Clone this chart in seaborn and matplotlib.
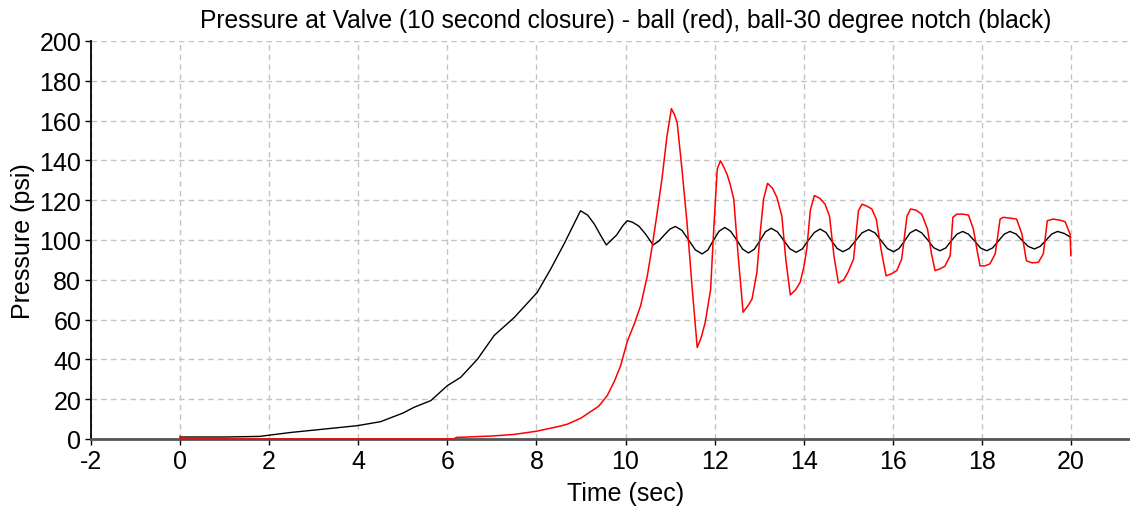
import matplotlib
matplotlib.use("Agg")
import matplotlib.pyplot as plt
import seaborn as sns
import pandas as pd

# Valve pressure history, ball valve (red)
ball_t = [0.0, 0.0, 6.15, 6.2, 7.0, 7.5, 8.0, 8.5, 8.7, 9.0, 9.14, 9.4, 9.59, 9.75, 9.89,
          10.04, 10.2, 10.34, 10.49, 10.6, 10.7, 10.82, 10.93, 11.03, 11.1, 11.16, 11.27,
          11.38, 11.5, 11.61, 11.7, 11.79, 11.91, 11.98, 12.06, 12.13, 12.2, 12.28, 12.35,
          12.43, 12.53, 12.64, 12.75, 12.84, 12.95, 13.03, 13.1, 13.19, 13.3, 13.4, 13.51,
          13.6, 13.7, 13.82, 13.92, 14.0, 14.07, 14.15, 14.24, 14.36, 14.48, 14.58, 14.68,
          14.78, 14.9, 15.0, 15.12, 15.23, 15.31, 15.42, 15.53, 15.63, 15.74, 15.85, 15.97,
          16.09, 16.2, 16.32, 16.4, 16.52, 16.65, 16.78, 16.87, 16.95, 17.06, 17.17, 17.29,
          17.35, 17.44, 17.57, 17.7, 17.81, 17.9, 17.96, 18.07, 18.18, 18.3, 18.41, 18.48,
          18.63, 18.78, 18.9, 19.0, 19.13, 19.27, 19.38, 19.47, 19.6, 19.75, 19.87, 19.98,
          20.0]
ball_p = [1.5, 0.0, 0.0, 0.8, 1.5, 2.3, 3.9, 6.3, 7.5, 10.5, 12.6, 16.5, 21.8, 29.0, 36.8,
          49.0, 58.0, 67.0, 82.0, 97.0, 112.0, 131.0, 152.0, 166.0, 163.0, 159.0, 135.0,
          109.0, 75.0, 46.0, 51.0, 58.6, 75.0, 105.0, 135.7, 139.8, 137.0, 133.0, 128.0,
          120.6, 92.0, 63.7, 67.0, 70.3, 83.7, 105.0, 120.6, 128.5, 126.0, 121.4, 112.0,
          90.0, 72.4, 75.0, 78.7, 86.0, 95.5, 115.0, 122.3, 121.0, 118.0, 112.0, 92.0,
          78.4, 80.0, 84.0, 90.4, 114.7, 118.0, 117.0, 115.6, 110.5, 95.0, 82.0, 83.0,
          84.6, 90.4, 112.0, 115.6, 115.0, 113.0, 105.5, 93.0, 84.6, 85.5, 86.8, 92.2,
          111.4, 113.0, 113.0, 112.5, 105.5, 94.0, 87.0, 87.0, 88.0, 93.0, 110.5, 111.4,
          111.0, 110.5, 103.0, 89.6, 88.5, 88.8, 93.0, 109.7, 110.5, 110.0, 109.2, 103.0,
          92.0]

# Valve pressure history, ball valve with 30 degree notch (black)
notch_t = [0.0, 1.0, 1.78, 2.49, 3.24, 3.98, 4.5, 5.0, 5.25, 5.63, 6.0, 6.3, 6.68, 7.05,
           7.5, 8.02, 8.32, 8.62, 8.99, 9.15, 9.3, 9.45, 9.57, 9.8, 9.95, 10.04, 10.15,
           10.3, 10.45, 10.62, 10.75, 10.87, 11.0, 11.12,
           11.27, 11.42, 11.57, 11.72, 11.85, 11.97, 12.10, 12.23, 12.36, 12.50, 12.63,
           12.76, 12.89, 13.02, 13.14, 13.27, 13.41, 13.55, 13.69, 13.83, 13.97, 14.10,
           14.24, 14.37, 14.50, 14.62, 14.75, 14.88, 15.02, 15.17, 15.31, 15.46, 15.60,
           15.74, 15.88, 16.02, 16.14, 16.27, 16.39, 16.52, 16.65, 16.79, 16.92, 17.06,
           17.19, 17.31, 17.44, 17.57, 17.70, 17.84, 17.97, 18.11, 18.24, 18.37, 18.50,
           18.63, 18.77, 18.90, 19.04, 19.18, 19.31, 19.44, 19.57, 19.70, 19.85, 20.0]
notch_p = [1.0, 1.0, 1.3, 3.3, 5.0, 6.7, 8.7, 13.0, 15.9, 19.3, 26.8, 31.0, 40.2, 52.0,
           61.0, 73.7, 85.4, 98.0, 114.7, 112.5, 108.0, 102.0, 97.5, 102.5, 107.5, 109.7,
           109.0, 107.0, 103.0, 97.5, 99.5, 102.5, 105.5, 106.8,
           104.8, 99.9, 95.0, 93.0, 95.0, 99.7, 104.4, 106.3, 104.4, 99.9, 95.4,
           93.5, 95.3, 99.7, 104.1, 105.9, 104.1, 99.9, 95.6, 93.8, 95.5, 99.7,
           103.8, 105.5, 103.8, 99.8, 95.8, 94.1, 95.7, 99.7, 103.6, 105.2, 103.6,
           99.65, 95.7, 94.1, 95.7, 99.65, 103.6, 105.2, 103.6, 99.9, 96.1, 94.6,
           96.0, 99.45, 102.9, 104.3, 102.9, 99.45, 96.0, 94.6, 96.0, 99.45, 102.9,
           104.3, 103.0, 99.9, 96.8, 95.5, 96.8, 99.9, 103.0, 104.3, 103.3, 101.3]

x_ticks = [-2, 0, 2, 4, 6, 8, 10, 12, 14, 16, 18, 20]
y_ticks = [0, 20, 40, 60, 80, 100, 120, 140, 160, 180, 200]

sns.set_theme(style="white")
plt.rcParams["font.family"] = ["Liberation Sans", "DejaVu Sans"]
plt.rcParams["axes.unicode_minus"] = False

W, H = 1130, 510
fig = plt.figure(figsize=(W / 100, H / 100), dpi=100)
ax = fig.add_axes([91 / W, 70 / H, (1160 - 91) / W, (440 - 42) / H])

ball = pd.DataFrame({"t": ball_t, "p": ball_p})
notch = pd.DataFrame({"t": notch_t, "p": notch_p})
sns.lineplot(data=notch, x="t", y="p", ax=ax, color="black", lw=1.0, sort=False,
             estimator=None, zorder=4)
sns.lineplot(data=ball, x="t", y="p", ax=ax, color="#ff0000", lw=1.1, sort=False,
             estimator=None, zorder=5, clip_on=False)

ax.set_xlim(-2, 22)
ax.set_ylim(0, 200)
ax.set_xticks(x_ticks)
ax.set_yticks(y_ticks)
ax.grid(True, color="#c4c4c4", linestyle=(0, (4, 3)), linewidth=1.0)
ax.set_axisbelow(True)

for side in ("top", "right"):
    ax.spines[side].set_visible(False)
ax.spines["left"].set_color("black")
ax.spines["left"].set_linewidth(1.3)
ax.spines["bottom"].set_color("#555555")
ax.spines["bottom"].set_linewidth(2.0)
ax.spines["bottom"].set_zorder(3)

fs = 18
ax.tick_params(axis="both", which="major", direction="out", length=4, width=1.0,
               color="black", labelsize=fs, labelcolor="black", pad=3,
               bottom=True, left=True)

ax.set_xlabel("Time (sec)", fontsize=fs, color="black", labelpad=6)
ax.set_ylabel("Pressure (psi)", fontsize=fs, color="black", labelpad=3)
ax.set_title("Pressure at Valve (10 second closure) - ball (red), ball-30 degree notch (black)",
             fontsize=17.7, color="black", pad=10)

fig.savefig("out.png", dpi=100)
